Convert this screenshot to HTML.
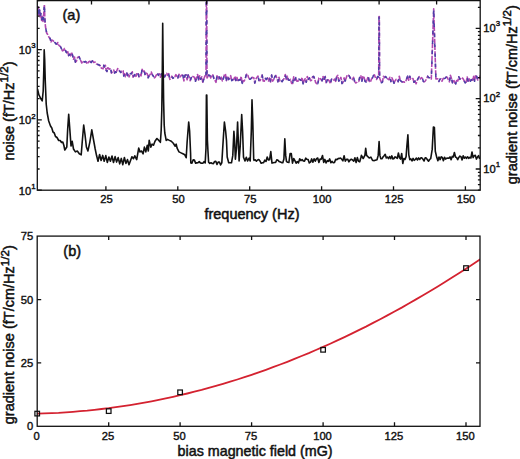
<!DOCTYPE html>
<html><head><meta charset="utf-8"><title>noise figure</title>
<style>html,body{margin:0;padding:0;background:#fff;width:520px;height:459px;overflow:hidden}
svg{display:block}</style></head><body>
<svg width="520" height="459" viewBox="0 0 520 459">
<rect width="520" height="459" fill="#fff"/>
<defs><clipPath id="ca"><rect x="37.3" y="0" width="442.9" height="190.2"/></clipPath>
<clipPath id="cb"><rect x="33.2" y="236.1" width="446.8" height="194.2"/></clipPath></defs>
<g clip-path="url(#ca)" fill="none" stroke-linejoin="round">
<polyline points="37.4,6.0 37.9,14.0 38.4,7.0 39.0,15.5 39.6,10.0 40.2,18.0 40.9,13.5 41.6,20.5 42.3,16.5 43.0,21.5 43.6,15.7 44.4,4.5 44.9,20.0 45.5,27.0 46.7,33.0 47.5,34.2 48.4,36.0 49.2,37.6 50.1,38.4 51.0,41.9 51.8,40.0 52.6,40.4 53.5,41.2 54.4,42.1 55.2,42.8 56.1,44.0 57.0,44.0 57.8,42.5 58.6,45.0 59.5,45.8 60.4,46.5 61.4,48.6 62.5,50.9 63.5,50.3 64.5,48.5 65.5,50.6 66.5,52.6 67.5,50.5 68.6,55.6 69.6,54.1 70.6,55.8 71.6,52.1 72.6,55.5 73.5,59.3 74.5,57.0 75.4,62.2 76.3,61.4 77.6,57.5 79.0,56.7 80.5,60.0 81.7,63.0 83.0,61.0 84.4,62.0 85.8,61.5 87.1,64.0 88.5,62.0 89.8,61.2 91.2,62.5 92.5,60.8 93.8,62.5 95.2,62.1 96.5,64.0 97.9,64.5 99.2,65.0 100.6,66.0 101.4,68.2 102.3,68.5 103.1,68.7 103.8,65.2 104.6,66.9 105.4,65.3 106.1,70.1 106.9,71.5 107.7,67.9 108.4,68.0 109.2,69.2 110.0,68.8 110.7,68.8 111.5,73.1 112.3,71.8 113.0,70.7 113.8,70.0 114.6,73.0 115.4,71.7 116.2,72.3 117.7,68.5 118.5,70.4 119.2,70.5 120.0,71.5 120.8,72.5 121.5,71.2 122.3,71.5 123.1,70.8 123.8,76.2 124.6,73.8 125.4,76.7 126.1,75.5 126.9,73.1 127.7,75.7 128.4,74.5 129.2,76.9 130.0,74.1 130.7,73.5 131.5,73.8 132.3,71.8 133.0,77.1 133.8,76.2 134.8,74.5 135.9,76.4 136.9,73.1 137.9,72.9 139.0,77.0 140.0,74.6 141.0,75.8 142.1,69.3 143.1,71.5 144.1,70.2 145.2,75.2 146.2,73.1 147.2,73.7 148.2,77.7 149.2,75.4 150.2,74.5 151.3,72.1 152.3,74.6 153.3,76.2 154.4,77.9 155.4,76.9 156.4,74.9 157.5,73.3 158.5,75.4 159.5,73.8 160.5,77.3 161.5,73.8 162.5,76.5 163.6,73.4 164.6,76.9 165.6,74.8 166.7,73.3 167.7,75.4 168.7,73.6 169.8,79.4 170.8,78.5 171.8,76.2 172.8,78.3 173.8,77.7 174.8,76.9 175.9,74.7 176.9,76.2 177.9,77.9 179.0,74.3 180.0,76.9 181.8,75.0 182.9,75.5 183.9,80.9 185.0,75.3 186.0,74.9 187.1,79.8 188.1,74.9 189.2,76.8 190.2,80.7 191.3,77.6 192.3,76.1 193.4,76.8 194.4,77.2 195.5,81.2 196.5,77.8 197.6,74.5 198.6,80.0 199.7,75.8 200.7,79.3 201.8,76.8 202.8,82.3 203.9,78.8 204.9,75.9 206.0,77.0 206.3,-2.0 206.7,-2.0 207.0,78.0 208.6,75.1 209.7,75.2 210.7,77.9 211.8,74.7 212.8,74.8 213.9,78.5 214.9,80.2 216.0,82.4 217.0,75.8 218.1,79.1 219.1,76.9 220.2,79.0 221.2,77.1 222.3,80.9 223.3,78.7 224.4,74.8 225.4,73.8 226.5,80.7 227.5,76.0 228.6,79.5 229.6,78.2 230.7,75.7 231.7,80.7 232.8,79.6 233.8,79.8 234.9,76.2 235.9,80.5 237.0,77.4 238.0,81.3 239.1,79.8 240.1,79.9 241.2,76.6 242.2,83.5 243.3,80.9 244.3,81.0 245.4,77.9 246.4,74.5 247.5,73.9 248.5,77.4 249.6,79.1 250.6,79.2 251.7,77.6 252.7,77.4 253.8,77.7 254.8,83.0 255.9,79.1 256.9,77.4 258.0,76.1 259.0,80.5 260.1,80.6 261.1,78.3 262.2,75.1 263.2,81.0 264.3,81.2 265.3,78.4 266.4,79.4 267.4,78.0 268.5,80.9 269.5,78.0 270.6,82.0 271.6,75.0 272.7,81.1 273.7,79.5 274.8,76.7 275.8,75.4 276.9,78.4 277.9,81.8 279.0,77.3 280.0,81.2 281.1,81.0 282.1,81.6 283.2,79.7 284.2,78.5 285.3,74.5 286.3,79.5 287.4,76.2 288.4,80.0 289.5,80.3 290.5,79.3 291.6,83.4 292.6,83.5 293.7,76.9 294.7,80.5 295.8,77.4 296.8,81.1 297.9,81.3 298.9,79.1 300.0,79.7 301.0,80.3 302.1,77.5 303.1,83.9 304.2,80.5 305.2,78.7 306.3,82.2 307.3,76.5 308.4,79.3 309.4,77.9 310.5,80.7 311.5,80.2 312.6,76.7 313.6,76.4 314.7,79.0 315.7,82.7 316.8,83.7 317.8,83.7 318.9,78.1 319.9,77.8 321.0,79.6 322.0,80.8 323.1,76.5 324.1,80.5 325.2,76.5 326.2,82.8 327.3,80.0 328.3,79.9 329.4,81.1 330.4,83.8 331.5,79.2 332.5,79.4 333.6,80.2 334.6,79.1 335.7,81.4 336.7,76.5 337.8,75.4 338.8,81.1 339.9,79.7 340.9,77.4 342.0,83.5 343.0,82.4 344.1,77.9 345.1,81.2 346.2,77.9 347.2,75.1 348.3,75.0 349.3,76.1 350.4,78.3 351.4,77.8 352.5,79.6 353.5,77.3 354.6,81.3 355.6,82.9 356.7,82.5 357.7,81.5 358.8,81.4 359.8,77.0 360.9,75.8 361.9,81.3 363.0,76.0 364.0,77.3 365.1,81.4 366.1,82.1 367.2,79.3 368.2,76.5 369.3,81.5 370.3,82.3 371.4,79.3 372.4,78.0 373.5,75.5 374.5,74.9 375.6,78.3 376.6,79.4 377.7,76.6 378.7,77.0 379.0,16.5 379.3,16.5 379.6,78.0 381.4,82.8 382.4,82.1 383.5,76.2 384.6,77.7 385.6,76.6 386.7,78.0 387.7,78.8 388.8,79.6 389.8,77.3 390.9,81.6 391.9,77.8 393.0,80.3 394.0,83.3 395.1,80.7 396.1,79.4 397.2,79.2 398.2,81.7 399.3,76.2 400.3,80.5 401.4,81.4 402.4,82.1 403.5,81.7 404.5,82.3 405.6,82.0 406.6,79.1 407.7,75.9 408.7,80.2 409.8,76.2 410.8,79.2 411.9,79.1 412.9,78.5 414.0,82.3 415.0,81.0 416.1,83.8 417.1,80.7 418.2,78.3 419.2,76.7 420.3,79.0 421.3,77.6 422.4,78.4 423.4,81.5 424.5,81.7 425.5,80.7 426.6,78.9 427.6,76.2 428.7,77.6 429.7,77.7 431.3,79.0 432.5,45.0 433.7,8.8 434.8,45.0 435.9,79.0 437.8,78.9 438.9,81.5 439.9,79.2 441.0,78.8 442.0,81.2 443.1,78.6 444.1,78.4 445.2,78.2 446.2,77.1 447.3,77.3 448.3,79.8 449.4,81.8 450.4,75.3 451.5,78.6 452.5,82.7 453.6,79.6 454.6,82.0 455.7,83.9 456.7,80.6 457.8,81.0 458.8,76.8 459.9,79.3 460.9,77.9 462.0,77.6 463.0,78.6 464.1,80.6 465.1,83.0 466.2,82.0 467.2,77.0 468.3,82.3 469.3,78.9 470.4,81.3 471.4,79.6 472.5,80.2 473.5,76.4 474.6,81.3 475.6,75.0 476.7,76.4 477.7,80.0 478.8,79.6 479.8,76.7 480.0,75.5" stroke="#b048b0" stroke-width="1.6" stroke-dasharray="5 1.3"/>
<polyline points="37.4,6.0 37.9,14.0 38.4,7.0 39.0,15.5 39.6,10.0 40.2,18.0 40.9,13.5 41.6,20.5 42.3,16.5 43.0,21.5 43.6,15.7 44.4,4.5 44.9,20.0 45.5,27.0 46.7,33.0 47.5,34.2 48.4,36.0 49.2,37.6 50.1,38.4 51.0,41.9 51.8,40.0 52.6,40.4 53.5,41.2 54.4,42.1 55.2,42.8 56.1,44.0 57.0,44.0 57.8,42.5 58.6,45.0 59.5,45.8 60.4,46.5 61.4,48.6 62.5,50.9 63.5,50.3 64.5,48.5 65.5,50.6 66.5,52.6 67.5,50.5 68.6,55.6 69.6,54.1 70.6,55.8 71.6,52.1 72.6,55.5 73.5,59.3 74.5,57.0 75.4,62.2 76.3,61.4 77.6,57.5 79.0,56.7 80.5,60.0 81.7,63.0 83.0,61.0 84.4,62.0 85.8,61.5 87.1,64.0 88.5,62.0 89.8,61.2 91.2,62.5 92.5,60.8 93.8,62.5 95.2,62.1 96.5,64.0 97.9,64.5 99.2,65.0 100.6,66.0 101.4,68.2 102.3,68.5 103.1,68.7 103.8,65.2 104.6,66.9 105.4,65.3 106.1,70.1 106.9,71.5 107.7,67.9 108.4,68.0 109.2,69.2 110.0,68.8 110.7,68.8 111.5,73.1 112.3,71.8 113.0,70.7 113.8,70.0 114.6,73.0 115.4,71.7 116.2,72.3 117.7,68.5 118.5,70.4 119.2,70.5 120.0,71.5 120.8,72.5 121.5,71.2 122.3,71.5 123.1,70.8 123.8,76.2 124.6,73.8 125.4,76.7 126.1,75.5 126.9,73.1 127.7,75.7 128.4,74.5 129.2,76.9 130.0,74.1 130.7,73.5 131.5,73.8 132.3,71.8 133.0,77.1 133.8,76.2 134.8,74.5 135.9,76.4 136.9,73.1 137.9,72.9 139.0,77.0 140.0,74.6 141.0,75.8 142.1,69.3 143.1,71.5 144.1,70.2 145.2,75.2 146.2,73.1 147.2,73.7 148.2,77.7 149.2,75.4 150.2,74.5 151.3,72.1 152.3,74.6 153.3,76.2 154.4,77.9 155.4,76.9 156.4,74.9 157.5,73.3 158.5,75.4 159.5,73.8 160.5,77.3 161.5,73.8 162.5,76.5 163.6,73.4 164.6,76.9 165.6,74.8 166.7,73.3 167.7,75.4 168.7,73.6 169.8,79.4 170.8,78.5 171.8,76.2 172.8,78.3 173.8,77.7 174.8,76.9 175.9,74.7 176.9,76.2 177.9,77.9 179.0,74.3 180.0,76.9 181.8,75.0 182.9,75.5 183.9,80.9 185.0,75.3 186.0,74.9 187.1,79.8 188.1,74.9 189.2,76.8 190.2,80.7 191.3,77.6 192.3,76.1 193.4,76.8 194.4,77.2 195.5,81.2 196.5,77.8 197.6,74.5 198.6,80.0 199.7,75.8 200.7,79.3 201.8,76.8 202.8,82.3 203.9,78.8 204.9,75.9 206.0,77.0 206.3,-2.0 206.7,-2.0 207.0,78.0 208.6,75.1 209.7,75.2 210.7,77.9 211.8,74.7 212.8,74.8 213.9,78.5 214.9,80.2 216.0,82.4 217.0,75.8 218.1,79.1 219.1,76.9 220.2,79.0 221.2,77.1 222.3,80.9 223.3,78.7 224.4,74.8 225.4,73.8 226.5,80.7 227.5,76.0 228.6,79.5 229.6,78.2 230.7,75.7 231.7,80.7 232.8,79.6 233.8,79.8 234.9,76.2 235.9,80.5 237.0,77.4 238.0,81.3 239.1,79.8 240.1,79.9 241.2,76.6 242.2,83.5 243.3,80.9 244.3,81.0 245.4,77.9 246.4,74.5 247.5,73.9 248.5,77.4 249.6,79.1 250.6,79.2 251.7,77.6 252.7,77.4 253.8,77.7 254.8,83.0 255.9,79.1 256.9,77.4 258.0,76.1 259.0,80.5 260.1,80.6 261.1,78.3 262.2,75.1 263.2,81.0 264.3,81.2 265.3,78.4 266.4,79.4 267.4,78.0 268.5,80.9 269.5,78.0 270.6,82.0 271.6,75.0 272.7,81.1 273.7,79.5 274.8,76.7 275.8,75.4 276.9,78.4 277.9,81.8 279.0,77.3 280.0,81.2 281.1,81.0 282.1,81.6 283.2,79.7 284.2,78.5 285.3,74.5 286.3,79.5 287.4,76.2 288.4,80.0 289.5,80.3 290.5,79.3 291.6,83.4 292.6,83.5 293.7,76.9 294.7,80.5 295.8,77.4 296.8,81.1 297.9,81.3 298.9,79.1 300.0,79.7 301.0,80.3 302.1,77.5 303.1,83.9 304.2,80.5 305.2,78.7 306.3,82.2 307.3,76.5 308.4,79.3 309.4,77.9 310.5,80.7 311.5,80.2 312.6,76.7 313.6,76.4 314.7,79.0 315.7,82.7 316.8,83.7 317.8,83.7 318.9,78.1 319.9,77.8 321.0,79.6 322.0,80.8 323.1,76.5 324.1,80.5 325.2,76.5 326.2,82.8 327.3,80.0 328.3,79.9 329.4,81.1 330.4,83.8 331.5,79.2 332.5,79.4 333.6,80.2 334.6,79.1 335.7,81.4 336.7,76.5 337.8,75.4 338.8,81.1 339.9,79.7 340.9,77.4 342.0,83.5 343.0,82.4 344.1,77.9 345.1,81.2 346.2,77.9 347.2,75.1 348.3,75.0 349.3,76.1 350.4,78.3 351.4,77.8 352.5,79.6 353.5,77.3 354.6,81.3 355.6,82.9 356.7,82.5 357.7,81.5 358.8,81.4 359.8,77.0 360.9,75.8 361.9,81.3 363.0,76.0 364.0,77.3 365.1,81.4 366.1,82.1 367.2,79.3 368.2,76.5 369.3,81.5 370.3,82.3 371.4,79.3 372.4,78.0 373.5,75.5 374.5,74.9 375.6,78.3 376.6,79.4 377.7,76.6 378.7,77.0 379.0,16.5 379.3,16.5 379.6,78.0 381.4,82.8 382.4,82.1 383.5,76.2 384.6,77.7 385.6,76.6 386.7,78.0 387.7,78.8 388.8,79.6 389.8,77.3 390.9,81.6 391.9,77.8 393.0,80.3 394.0,83.3 395.1,80.7 396.1,79.4 397.2,79.2 398.2,81.7 399.3,76.2 400.3,80.5 401.4,81.4 402.4,82.1 403.5,81.7 404.5,82.3 405.6,82.0 406.6,79.1 407.7,75.9 408.7,80.2 409.8,76.2 410.8,79.2 411.9,79.1 412.9,78.5 414.0,82.3 415.0,81.0 416.1,83.8 417.1,80.7 418.2,78.3 419.2,76.7 420.3,79.0 421.3,77.6 422.4,78.4 423.4,81.5 424.5,81.7 425.5,80.7 426.6,78.9 427.6,76.2 428.7,77.6 429.7,77.7 431.3,79.0 432.5,45.0 433.7,8.8 434.8,45.0 435.9,79.0 437.8,78.9 438.9,81.5 439.9,79.2 441.0,78.8 442.0,81.2 443.1,78.6 444.1,78.4 445.2,78.2 446.2,77.1 447.3,77.3 448.3,79.8 449.4,81.8 450.4,75.3 451.5,78.6 452.5,82.7 453.6,79.6 454.6,82.0 455.7,83.9 456.7,80.6 457.8,81.0 458.8,76.8 459.9,79.3 460.9,77.9 462.0,77.6 463.0,78.6 464.1,80.6 465.1,83.0 466.2,82.0 467.2,77.0 468.3,82.3 469.3,78.9 470.4,81.3 471.4,79.6 472.5,80.2 473.5,76.4 474.6,81.3 475.6,75.0 476.7,76.4 477.7,80.0 478.8,79.6 479.8,76.7 480.0,75.5" stroke="#4a40a8" stroke-width="1.5" stroke-dasharray="3.5 6.5" stroke-dashoffset="1"/>
<polyline points="37.5,89.0 38.9,94.9 40.9,98.8 42.2,100.8 43.2,91.0 43.8,70.0 44.2,49.8 44.7,60.0 45.2,79.2 46.2,104.0 47.2,113.0 48.7,121.0 50.5,126.0 51.8,128.0 53.0,132.0 54.3,133.0 55.5,136.5 57.0,137.5 58.7,140.5 60.2,140.5 61.5,142.5 62.8,142.0 63.9,145.5 64.8,150.0 66.8,147.0 67.7,128.8 68.7,114.4 70.2,134.6 71.0,146.0 72.2,141.3 73.5,149.0 75.4,151.9 77.3,151.0 79.3,153.8 81.2,154.8 82.2,142.3 83.7,125.0 85.0,134.6 86.4,147.0 87.9,151.0 89.8,142.3 91.8,129.8 93.3,138.5 95.2,149.0 96.5,155.3 98.0,161.3 99.6,154.5 101.1,160.5 102.7,155.4 104.2,161.3 105.8,155.6 107.3,162.4 108.9,157.0 110.4,161.3 112.0,156.0 113.5,162.5 115.1,156.6 116.6,162.1 118.2,157.6 119.7,163.9 121.3,158.4 122.8,164.7 124.4,157.5 125.9,163.4 127.5,159.6 129.0,164.8 131.9,156.7 133.5,158.7 134.8,155.8 136.7,159.6 138.7,148.1 140.0,151.9 141.5,151.0 143.1,153.8 144.4,147.1 145.8,151.9 147.3,145.2 148.3,151.0 149.2,140.4 150.8,147.1 152.1,144.2 153.5,145.2 155.0,141.3 156.9,138.5 158.8,140.4 160.4,142.3 161.2,130.0 161.8,110.0 162.3,70.0 162.7,23.2 163.1,60.0 163.6,100.0 164.2,125.0 164.8,133.0 166.2,140.4 167.5,139.4 169.4,140.4 171.3,141.3 173.3,143.3 175.2,146.2 176.2,144.2 177.1,148.1 179.0,151.9 181.0,152.9 182.9,153.8 184.8,154.8 186.2,157.7 187.1,142.3 188.7,122.1 189.6,130.8 190.6,153.8 190.8,162.9 192.0,163.1 193.2,159.8 194.4,160.1 195.6,163.1 196.8,162.9 198.0,162.8 199.2,161.6 200.4,162.9 201.6,163.1 202.8,163.2 204.0,161.7 205.2,162.9 206.0,148.1 206.4,95.0 206.8,95.0 207.4,140.0 207.9,150.0 208.6,162.2 209.8,163.4 211.0,162.7 212.2,163.5 213.4,163.6 214.6,161.5 215.8,161.2 217.0,164.4 218.2,162.1 219.4,162.0 220.6,164.9 221.8,162.9 223.3,138.5 224.4,122.0 225.6,130.8 226.5,140.6 227.2,157.0 228.7,162.8 231.5,162.8 232.8,155.4 233.9,131.3 234.6,140.6 235.4,159.1 236.5,148.0 237.6,122.0 238.3,140.6 239.1,160.9 240.2,146.1 241.7,114.6 242.6,131.3 243.5,157.2 245.0,160.9 246.3,157.2 247.6,160.9 249.1,158.1 250.2,160.9 251.3,131.3 252.0,99.8 252.8,122.0 253.7,159.1 254.0,160.4 255.2,159.8 256.4,161.1 257.6,160.0 258.8,159.6 260.0,161.0 261.2,163.3 262.4,162.8 263.6,162.6 264.8,160.2 266.0,161.5 267.2,157.0 268.4,159.9 269.6,159.6 270.8,151.5 272.0,163.1 273.2,162.7 274.4,162.5 275.6,162.5 276.8,159.8 278.0,160.3 279.2,161.6 280.4,162.1 281.6,162.6 282.8,162.7 283.9,159.1 284.8,138.7 285.7,155.4 286.5,161.6 287.7,162.2 288.9,162.5 290.1,153.5 291.3,153.5 292.5,163.1 293.7,158.5 294.9,160.7 296.1,163.2 297.3,161.6 298.5,162.9 299.7,158.8 300.9,160.6 302.1,159.5 303.3,161.0 304.5,161.1 305.7,158.2 306.9,159.3 308.1,159.6 309.3,162.9 310.5,162.1 311.7,158.9 312.9,162.2 314.1,158.8 315.3,161.2 316.5,158.7 317.7,158.0 318.9,162.5 320.1,159.0 321.3,159.1 322.5,155.5 323.7,162.4 324.9,159.4 326.1,162.9 327.3,160.7 328.5,161.4 329.7,158.9 330.9,162.7 332.1,161.4 333.3,162.8 334.5,162.4 335.7,159.3 336.9,159.6 338.1,158.6 339.3,158.4 340.5,158.0 341.7,159.2 342.9,160.8 344.1,155.8 345.3,161.1 346.5,159.4 347.7,159.2 348.9,161.8 350.1,160.0 351.3,159.2 352.5,160.0 353.7,161.2 354.9,157.8 356.1,162.5 357.3,157.6 358.5,161.3 359.7,161.8 360.9,157.5 361.4,155.4 363.2,158.5 364.9,155.4 365.7,148.4 366.6,155.4 369.2,158.0 370.9,157.1 372.6,160.5 374.4,160.6 377.0,159.7 378.2,155.4 379.1,141.5 379.9,155.4 380.8,158.6 381.9,158.8 383.0,157.0 384.1,155.7 385.2,154.3 386.3,158.0 387.4,157.0 388.5,158.6 389.6,156.5 390.7,158.7 391.8,155.9 392.9,158.9 394.0,158.5 395.1,156.8 396.2,157.5 397.3,158.3 398.4,153.0 399.5,157.7 400.6,159.1 401.7,153.5 402.8,163.5 403.9,158.5 405.0,159.4 406.1,156.6 406.9,145.7 407.9,134.7 408.8,154.8 409.8,159.7 410.9,158.9 412.0,161.0 413.1,158.4 414.2,160.4 415.3,159.5 416.4,158.1 417.5,160.0 418.6,157.9 419.7,159.5 420.8,157.9 421.9,157.9 423.0,159.3 424.1,161.0 425.2,157.8 426.3,158.1 427.4,159.8 428.5,161.2 429.6,159.5 430.7,158.6 432.2,149.4 433.4,127.0 434.4,127.5 435.3,151.2 436.8,157.6 437.9,160.8 439.0,157.1 440.1,159.6 441.2,156.8 442.3,157.5 443.4,160.7 444.5,157.2 445.6,159.1 446.7,158.2 447.8,158.1 448.9,158.3 450.0,156.9 451.1,159.7 452.2,156.4 453.3,156.9 454.4,152.5 455.5,157.0 456.6,157.6 457.7,159.7 458.8,157.4 459.9,156.1 461.0,156.7 462.1,159.9 463.2,155.8 464.3,158.2 465.4,157.1 466.5,158.3 467.6,156.8 468.7,158.3 469.8,157.4 470.9,158.0 472.0,152.0 473.1,157.6 474.2,155.7 475.3,155.3 476.4,159.1 477.5,157.1 478.6,155.7 479.7,159.0" stroke="#111" stroke-width="1.6"/>
</g>
<g stroke="#111" stroke-width="1.3" fill="none">
<rect x="37.3" y="0.6" width="442.9" height="189.6"/>
<path d="M105.9 190.2V186.2 M177.8 190.2V186.2 M249.7 190.2V186.2 M321.6 190.2V186.2 M393.5 190.2V186.2 M465.4 190.2V186.2 M91.5 0.6V4.6 M149.0 0.6V4.6 M206.6 0.6V4.6 M264.1 0.6V4.6 M321.6 0.6V4.6 M379.1 0.6V4.6 M436.6 0.6V4.6 M37.3 190.2H41.8 M37.3 169.0H39.6 M37.3 156.7H39.6 M37.3 147.9H39.6 M37.3 141.1H39.6 M37.3 135.5H39.6 M37.3 130.8H39.6 M37.3 126.7H39.6 M37.3 123.1H39.6 M37.3 119.9H41.8 M37.3 98.7H39.6 M37.3 86.4H39.6 M37.3 77.6H39.6 M37.3 70.8H39.6 M37.3 65.2H39.6 M37.3 60.5H39.6 M37.3 56.4H39.6 M37.3 52.8H39.6 M37.3 49.6H41.8 M37.3 28.4H39.6 M37.3 16.1H39.6 M37.3 7.3H39.6 M37.3 0.5H39.6 M480.2 190.2H477.9 M480.2 184.6H477.9 M480.2 179.9H477.9 M480.2 175.9H477.9 M480.2 172.3H477.9 M480.2 169.0H475.7 M480.2 147.9H477.9 M480.2 135.5H477.9 M480.2 126.7H477.9 M480.2 119.9H477.9 M480.2 114.3H477.9 M480.2 109.6H477.9 M480.2 105.6H477.9 M480.2 102.0H477.9 M480.2 98.7H475.7 M480.2 77.6H477.9 M480.2 65.2H477.9 M480.2 56.4H477.9 M480.2 49.6H477.9 M480.2 44.0H477.9 M480.2 39.3H477.9 M480.2 35.3H477.9 M480.2 31.7H477.9 M480.2 28.4H475.7 M480.2 7.3H477.9"/>
</g>
<g font-family="Liberation Sans, sans-serif" font-size="11.2" fill="#111" stroke="#111" stroke-width="0.4">
<text x="106.5" y="203.3" text-anchor="middle">25</text>
<text x="178.4" y="203.3" text-anchor="middle">50</text>
<text x="250.3" y="203.3" text-anchor="middle">75</text>
<text x="322.2" y="203.3" text-anchor="middle">100</text>
<text x="394.1" y="203.3" text-anchor="middle">125</text>
<text x="466.0" y="203.3" text-anchor="middle">150</text>
<text x="18.8" y="194.5">10<tspan font-size="7.9" dy="-5.5">1</tspan></text>
<text x="18.8" y="124.2">10<tspan font-size="7.9" dy="-5.5">2</tspan></text>
<text x="18.8" y="53.9">10<tspan font-size="7.9" dy="-5.5">3</tspan></text>
<text x="483.2" y="172.7">10<tspan font-size="7.9" dy="-5.9">1</tspan></text>
<text x="483.2" y="102.4">10<tspan font-size="7.9" dy="-5.9">2</tspan></text>
<text x="483.2" y="32.1">10<tspan font-size="7.9" dy="-5.9">3</tspan></text>
</g>
<g font-family="Liberation Sans, sans-serif" font-size="14.5" fill="#111" stroke="#111" stroke-width="0.5">
<text x="204.4" y="218.8">frequency (Hz)</text>
<text transform="translate(13.6,160.6) rotate(-90)">noise (fT/Hz<tspan font-size="11.6" dy="-5.6">1/2</tspan><tspan dy="5.6">)</tspan></text>
<text transform="translate(516.6,184.2) rotate(-90)">gradient noise (fT/cm/Hz<tspan font-size="11.6" dy="-5.6">1/2</tspan><tspan dy="5.6">)</tspan></text>
<text x="62.5" y="19.6">(a)</text>
</g>
<g clip-path="url(#cb)" fill="none">
<polyline points="37.2,413.6 44.3,413.4 51.5,413.1 58.6,412.8 65.8,412.3 72.9,411.8 80.1,411.2 87.2,410.6 94.4,409.8 101.5,409.0 108.7,408.2 115.8,407.2 123.0,406.2 130.1,405.1 137.3,403.9 144.4,402.6 151.5,401.3 158.7,399.9 165.8,398.4 173.0,396.8 180.1,395.2 187.3,393.5 194.4,391.7 201.6,389.9 208.7,387.9 215.9,385.9 223.0,383.8 230.2,381.7 237.3,379.5 244.5,377.2 251.6,374.8 258.7,372.3 265.9,369.8 273.0,367.2 280.2,364.5 287.3,361.8 294.5,358.9 301.6,356.0 308.8,353.1 315.9,350.0 323.1,346.9 330.2,343.7 337.4,340.4 344.5,337.1 351.7,333.6 358.8,330.1 366.0,326.6 373.1,322.9 380.2,319.2 387.4,315.4 394.5,311.5 401.7,307.6 408.8,303.5 416.0,299.4 423.1,295.3 430.3,291.0 437.4,286.7 444.6,282.3 451.7,277.8 458.9,273.3 466.0,268.7 473.2,264.0 480.3,259.2" stroke="#d42230" stroke-width="1.8"/>
</g>
<g fill="none" stroke="#111" stroke-width="1.25">
<rect x="34.9" y="411.3" width="4.6" height="4.6"/>
<rect x="106.4" y="408.8" width="4.6" height="4.6"/>
<rect x="177.8" y="390.0" width="4.6" height="4.6"/>
<rect x="320.8" y="347.5" width="4.6" height="4.6"/>
<rect x="463.7" y="265.8" width="4.6" height="4.6"/>
</g>
<g stroke="#111" stroke-width="1.3" fill="none">
<rect x="37.2" y="236.1" width="442.8" height="190.2"/>
<path d="M108.7 426.3V422.3 M108.7 236.1V240.1 M180.1 426.3V422.3 M180.1 236.1V240.1 M251.6 426.3V422.3 M251.6 236.1V240.1 M323.1 426.3V422.3 M323.1 236.1V240.1 M394.5 426.3V422.3 M394.5 236.1V240.1 M466.0 426.3V422.3 M466.0 236.1V240.1 M37.2 362.9H41.2 M480.0 362.9H476.0 M37.2 299.6H41.2 M480.0 299.6H476.0"/>
</g>
<g font-family="Liberation Sans, sans-serif" font-size="11.2" fill="#111" stroke="#111" stroke-width="0.4">
<text x="36.6" y="439.5" text-anchor="middle">0</text>
<text x="108.1" y="439.5" text-anchor="middle">25</text>
<text x="179.5" y="439.5" text-anchor="middle">50</text>
<text x="251.0" y="439.5" text-anchor="middle">75</text>
<text x="322.5" y="439.5" text-anchor="middle">100</text>
<text x="393.9" y="439.5" text-anchor="middle">125</text>
<text x="465.4" y="439.5" text-anchor="middle">150</text>
<text x="33.2" y="430.4" text-anchor="end">0</text>
<text x="33.2" y="367.0" text-anchor="end">25</text>
<text x="33.2" y="303.7" text-anchor="end">50</text>
<text x="33.2" y="240.3" text-anchor="end">75</text>
</g>
<g font-family="Liberation Sans, sans-serif" font-size="14.5" fill="#111" stroke="#111" stroke-width="0.5">
<text x="177.6" y="456.4" font-size="14.3">bias magnetic field (mG)</text>
<text transform="translate(14.2,424.2) rotate(-90)">gradient noise (fT/cm/Hz<tspan font-size="11.6" dy="-5.6">1/2</tspan><tspan dy="5.6">)</tspan></text>
<text x="63.3" y="256.2">(b)</text>
</g>
</svg>
</body></html>
